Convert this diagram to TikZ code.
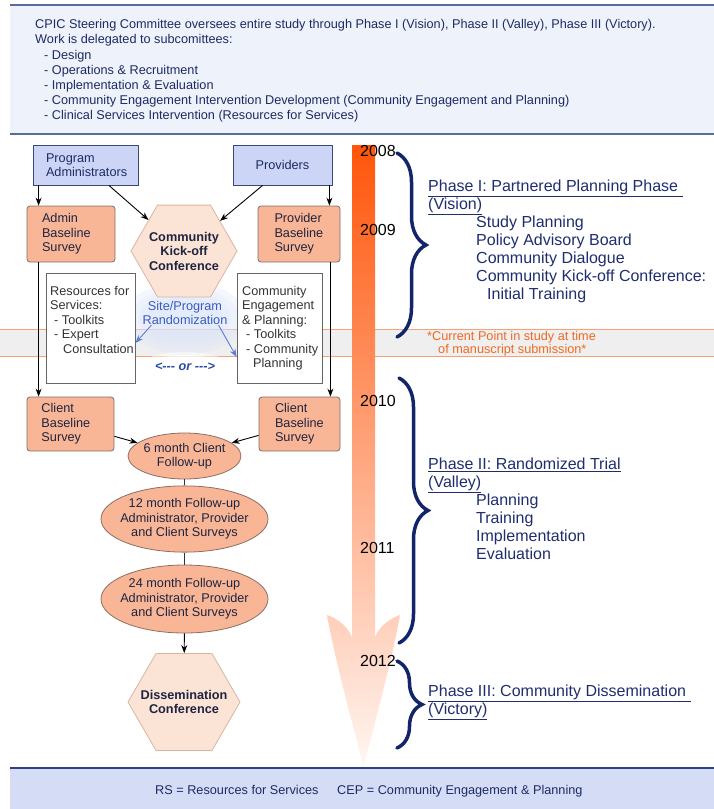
\documentclass[tikz,border=0pt]{standalone}
\usepackage{fontspec}
\setmainfont{Liberation Sans}
\usetikzlibrary{shapes.geometric,arrows.meta,decorations.pathreplacing,calc}
\definecolor{topbg}{HTML}{EEF2FB}
\definecolor{topline}{HTML}{5A6A9A}
\definecolor{botbg}{HTML}{D5DDF6}
\definecolor{botline}{HTML}{2F4280}
\definecolor{bluebox}{HTML}{CCD5F6}
\definecolor{blueboxdraw}{HTML}{3B4878}
\definecolor{navytext}{HTML}{1E2B63}
\definecolor{orangebox}{HTML}{F9B697}
\definecolor{orangedraw}{HTML}{7C6E6C}
\definecolor{boxtext}{HTML}{1E2440}
\definecolor{hexfill}{HTML}{FBE3D6}
\definecolor{hexdraw}{HTML}{D8B5A2}
\definecolor{elldraw}{HTML}{8C6E62}
\definecolor{graytext}{HTML}{333333}
\definecolor{boxgray}{HTML}{666666}
\definecolor{bandline}{HTML}{F6A274}
\definecolor{bandfill}{HTML}{EFEFEF}
\definecolor{curtext}{HTML}{F06A22}
\definecolor{bluetext}{HTML}{3A5CC0}
\definecolor{bluearrow}{HTML}{5B80D6}
\definecolor{ortext}{HTML}{2A4AA8}
\definecolor{glow}{HTML}{DCE5FA}
\definecolor{bracecol}{HTML}{13256A}
\definecolor{phasetext}{HTML}{1F2D6E}
\definecolor{tlA}{RGB}{255,85,10}
\definecolor{tlB}{RGB}{250,172,138}
\definecolor{tlC}{RGB}{255,246,242}
\begin{document}
\begin{tikzpicture}[x=1pt,y=-1pt,
  every node/.style={inner sep=0pt},
  lbl/.style={font=\fontsize{12.7}{14.5}\selectfont, align=left},
  ln/.style={anchor=west, text height=0.72em, text depth=0pt, inner sep=0pt},
  small/.style={font=\fontsize{12.7}{15}\selectfont},
  big/.style={font=\fontsize{16}{18}\selectfont},
  bluebx/.style={draw=blueboxdraw, fill=bluebox, line width=0.8pt, text=navytext, lbl, minimum height=40pt},
  orbx/.style={draw=orangedraw, fill=orangebox, rounded corners=3pt, line width=0.8pt, text=boxtext, lbl, minimum height=56pt},
  whbx/.style={draw=boxgray, fill=white, line width=0.8pt, minimum width=87pt, minimum height=110pt},
  hexa/.style={regular polygon, regular polygon sides=6, draw=hexdraw, fill=hexfill, line width=0.8pt,
    inner sep=-30pt, font=\fontsize{12.7}{14.5}\selectfont\bfseries, align=center, text=boxtext},
  ell/.style={ellipse, draw=elldraw, fill=orangebox, line width=0.8pt, lbl, align=center, text=boxtext},
  arr/.style={-{Stealth[length=8pt,width=6pt]}, line width=0.9pt, black},
  barr/.style={-{Stealth[length=8pt,width=6pt]}, line width=0.9pt, bluearrow},
  plain/.style={line width=0.9pt, black!80},
  brc/.style={draw=bracecol, line width=3.5pt, line cap=round, decorate},
]
\useasboundingbox (0,0) rectangle (714,809);
% top band
\fill[topbg] (10,5) rectangle (714,134);
\draw[topline, line width=1.4pt] (10,5) -- (714,5);
\draw[topline, line width=1.4pt] (10,134) -- (714,134);
\foreach \i/\x/\y/\t in {
 1/35/25/{CPIC Steering Committee oversees entire study through Phase I (Vision), Phase II (Valley), Phase III (Victory).},
 2/35/40/{Work is delegated to subcomittees:},
 3/44/56/{- Design},
 4/44/71/{- Operations \& Recruitment},
 5/44/86/{- Implementation \& Evaluation},
 6/44/101/{- Community Engagement Intervention Development (Community Engagement and Planning)},
 7/44/116/{- Clinical Services Intervention (Resources for Services)}}
  \node[ln, small, text=navytext] (top\i) at (\x,\y) {\t};
% bottom band
\fill[botbg] (10,768) rectangle (714,809);
\draw[botline, line width=1.4pt] (10,768) -- (714,768);
\node[ln, small, text=navytext] (legrs) at (155,791) {RS = Resources for Services};
\node[ln, small, text=navytext] (legcep) at (337,791) {CEP = Community Engagement \& Planning};
% current point band
\fill[bandfill] (0,329) rectangle (714,356);
\draw[bandline, line width=0.9pt] (0,329) -- (714,329);
\draw[bandline, line width=0.9pt] (0,356) -- (714,356);
% timeline arrow
\shade[top color=tlA, middle color=tlB, bottom color=tlC]
  (352,145) -- (352,637) .. controls (347,625) and (336,618) .. (327,615)
  .. controls (335,660) and (352,722) .. (363.5,766)
  .. controls (375,722) and (392,660) .. (400,615)
  .. controls (391,618) and (380,625) .. (375,637) -- (375,145) -- cycle;
% glow
\foreach \a/\b in {62/36,54/31,46/26,38/21}
  \fill[glow, opacity=0.3] (185,318) ellipse ({\a pt} and {\b pt});
\foreach \a/\b in {46/15,38/12}
  \fill[white, opacity=0.5] (185,367) ellipse ({\a pt} and {\b pt});
% nodes
\node[bluebx, minimum width=105pt, text width=80pt] (pa) at (86,165) {Program\\Administrators};
\node[bluebx, minimum width=99pt, align=center] (prov) at (282.5,165) {Providers};
\node[orbx, minimum width=88pt, text width=58pt] (ab) at (71,234) {Admin\\Baseline\\Survey};
\node[orbx, minimum width=82pt, text width=49pt] (pb) at (299,234) {Provider\\Baseline\\Survey};
\node[hexa, minimum size=106pt] (kick) at (184,251) {Community\\Kick-off\\Conference};
\node[whbx, minimum width=89pt] (rsbox) at (90.5,328) {};
\node[whbx, minimum width=85pt] (cepbox) at (279.5,328) {};
\node[lbl, text=graytext, anchor=north west] (rstext) at (50,286)
  {Resources for\\Services:\\\hspace*{4pt}- Toolkits\\\hspace*{4pt}- Expert\\\hspace*{13pt}Consultation};
\node[lbl, text=graytext, anchor=north west] (ceptext) at (242,286)
  {Community\\Engagement\\\& Planning:\\\hspace*{4pt}- Toolkits\\\hspace*{4pt}- Community\\\hspace*{11pt}Planning};
\node[lbl, align=center, text=bluetext] (site) at (185,313) {Site/Program\\Randomization};
\node[font=\fontsize{12.7}{14.5}\selectfont\bfseries\itshape, text=ortext] (ortxt) at (185,367)
  {<\mbox{-}\mbox{-}\mbox{-} or \mbox{-}\mbox{-}\mbox{-}>};
\node[orbx, minimum width=87pt, minimum height=54pt, text width=58pt] (cb1) at (70.5,424) {Client\\Baseline\\Survey};
\node[orbx, minimum width=81pt, minimum height=54pt, text width=49pt] (cb2) at (299.5,424) {Client\\Baseline\\Survey};
\node[ell, minimum width=113pt, minimum height=46pt, inner xsep=-1.5pt, inner ysep=3pt] (e6) at (184.5,456) {6 month Client\\Follow-up};
\node[ell, minimum width=167pt, minimum height=66pt, inner xsep=-6pt, inner ysep=3pt] (e12) at (184.5,519) {12 month Follow-up\\Administrator, Provider\\and Client Surveys};
\node[ell, minimum width=167pt, minimum height=68pt, inner xsep=-6pt, inner ysep=3pt] (e24) at (184.5,599) {24 month Follow-up\\Administrator, Provider\\and Client Surveys};
\node[hexa, minimum size=112pt] (diss) at (184,702) {Dissemination\\Conference};
% connectors
\draw[arr] ([xshift=12pt]ab.north west |- pa.south) -- ([xshift=12pt]ab.north west);
\draw[arr] ([xshift=-30pt]pa.south east) -- (kick);
\draw[arr] ([xshift=30pt]prov.south west) -- (kick);
\draw[arr] ([xshift=-11pt]pb.north east |- prov.south) -- ([xshift=-11pt]pb.north east);
\draw[arr] ([xshift=12pt]ab.south west) -- ([xshift=12pt]ab.south west |- cb1.north);
\draw[arr] ([xshift=-10pt]pb.south east) -- ([xshift=-10pt]pb.south east |- cb2.north);
\draw[barr] ([xshift=9pt]site.south west) -- ([yshift=-15pt]rsbox.east);
\draw[barr] ([xshift=-9pt]site.south east) -- ([yshift=-29pt]cepbox.west);
\draw[arr] (cb1) -- (e6);
\draw[arr] (cb2) -- (e6);
\draw[plain] (e6) -- (e12);
\draw[plain] (e12) -- (e24);
\draw[arr] (e24) -- (diss);
% years
\foreach \i/\y in {2008/153,2009/232,2010/403,2011/550,2012/663}
  \node[ln, big, text=black] (yr\i) at (360,\y) {\i};
% braces
\draw[brc, decoration={brace, amplitude=29pt}] (397,153) -- (397,337);
\draw[brc, decoration={brace, amplitude=29pt}] (399,378) -- (399,643);
\draw[brc, decoration={brace, amplitude=25pt}] (397,661) -- (397,748);
% current point text
\node[ln, small, text=curtext] (cur1) at (427,337) {*Current Point in study at time};
\node[ln, small, text=curtext] (cur2) at (438,350) {of manuscript submission*};
% phase texts
\foreach \i/\x/\y/\t in {
 a/428/188/{\underline{Phase I: Partnered Planning Phase\ }},
 b/428/206/{\underline{(Vision)}},
 c/476/224/{Study Planning},
 d/476/242/{Policy Advisory Board},
 e/476/260/{Community Dialogue},
 f/476/278/{Community Kick-off Conference:},
 g/487/296/{Initial Training},
 h/428/466/{\underline{Phase II: Randomized Trial}},
 i/428/484/{\underline{(Valley)}},
 j/476/502/{Planning},
 k/476/520/{Training},
 l/476/538/{Implementation},
 m/476/556/{Evaluation},
 n/428/693/{\underline{Phase III: Community Dissemination\ }},
 o/428/711/{\underline{(Victory)}}}
  \node[ln, big, text=phasetext] (ph\i) at (\x,\y) {\t};
\end{tikzpicture}
\end{document}
